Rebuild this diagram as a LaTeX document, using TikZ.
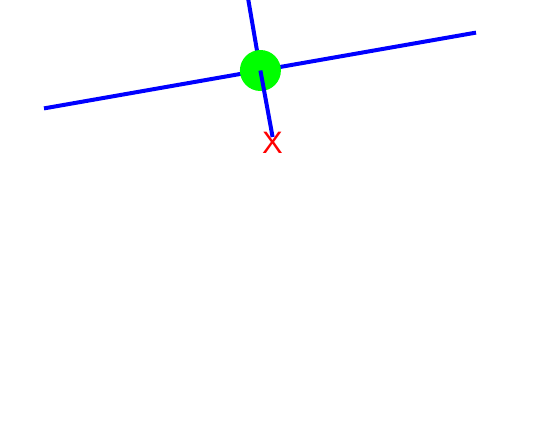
\documentclass[tikz,border=0pt]{standalone}
\usepackage{fontspec}
\setsansfont{Liberation Sans}
\begin{document}
\begin{tikzpicture}[x=1pt,y=-1pt,line width=4pt]
\useasboundingbox (0,0) rectangle (553,445);
\coordinate (west) at (44,108.4);
\coordinate (east) at (476,32.6);
\coordinate (north) at (248,-2);
\coordinate (tip) at (272.6,137);
\draw [blue] (west) -- (east);
\draw [blue] (north) -- (260.4,70.5);
\node[circle, fill=green, inner sep=0pt, minimum size=41pt] (hub) at (260.4,70.5) {};
\node[text=red, font=\sffamily\fontsize{31}{31}\selectfont, inner sep=0pt] (cross) at (272.5,143) {X};
\draw [blue] (hub.center) -- (tip);
\end{tikzpicture}
\end{document}
